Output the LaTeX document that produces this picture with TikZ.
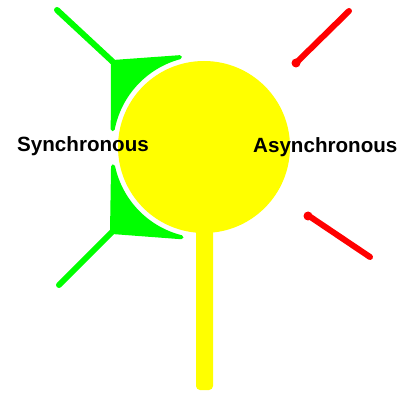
\documentclass[tikz,border=0pt]{standalone}
\usepackage{fontspec}
\setmainfont{Liberation Sans}
\usetikzlibrary{calc}

\begin{document}
\begin{tikzpicture}[x=1pt, y=1pt,
  soma/.style={fill={rgb,255:red,255;green,255;blue,0}},
  syn/.style={draw={rgb,255:red,0;green,255;blue,0}, line width=6pt, line cap=round},
  bouton/.style={fill={rgb,255:red,0;green,255;blue,0}, draw={rgb,255:red,0;green,255;blue,0},
                 line width=4pt, line join=round},
  asyn/.style={draw={rgb,255:red,255;green,0;blue,0}, line width=6pt, line cap=round},
  knob/.style={fill={rgb,255:red,255;green,0;blue,0}},
  lbl/.style={font=\bfseries\fontsize{20.6}{24}\selectfont, inner sep=0pt, anchor=base west}
]
\useasboundingbox (0,0) rectangle (403,393);
\coordinate (c) at (204,246);

\fill[soma, rounded corners=4pt] (196,3) rectangle (213,200);
\fill[soma] (c) circle[radius=86];

\coordinate (s1end) at (57,383);
\coordinate (s1v) at (113,331);
\draw[syn] (s1end) -- (s1v);
\filldraw[bouton] (s1v) -- ($(c)+(105:93)$) arc[start angle=105, end angle=169, radius=93] -- cycle;

\coordinate (s2end) at (59,108);
\coordinate (s2v) at (112,161);
\draw[syn] (s2end) -- (s2v);
\filldraw[bouton] (s2v) -- ($(c)+(192:93)$) arc[start angle=192, end angle=256, radius=93] -- cycle;

\coordinate (a1end) at (349,382);
\coordinate (a1tip) at (297,331);
\draw[asyn] (a1end) -- (a1tip);
\fill[knob] (296,330) circle[radius=4.5];

\coordinate (a2end) at (370,136);
\coordinate (a2tip) at (309,177);
\draw[asyn] (a2end) -- (a2tip);
\fill[knob] (308,177) circle[radius=4.5];

\node[lbl] (sync) at (17,241) {Synchronous};
\node[lbl] (async) at (253,240) {Asynchronous};
\end{tikzpicture}
\end{document}
